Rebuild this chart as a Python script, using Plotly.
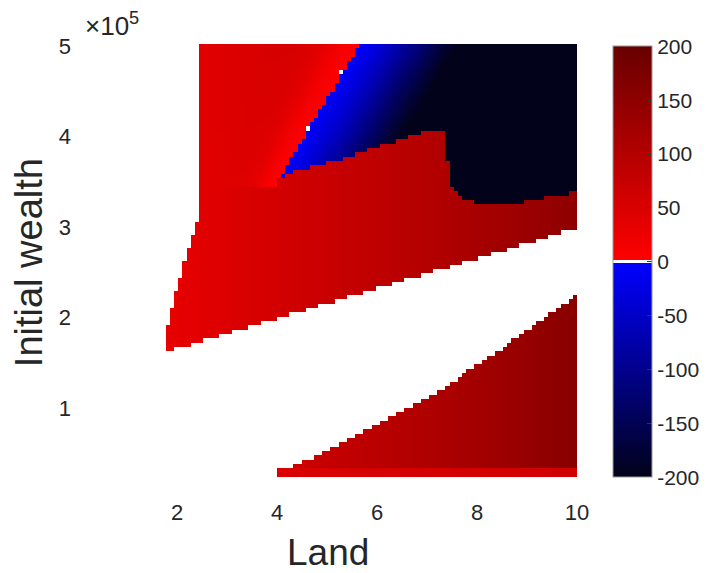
import numpy as np
import plotly.graph_objects as go

# ---- grid (cell centres); wealth in units of 1e5 ----
n_land, n_wealth = 100, 100
land_edges = np.linspace(1.78, 10.0, n_land + 1)
wealth_edges = np.linspace(0.238, 5.022, n_wealth + 1)
land = 0.5 * (land_edges[:-1] + land_edges[1:])
wealth = 0.5 * (wealth_edges[:-1] + wealth_edges[1:])

# ---- region boundaries (land, wealth/1e5) ----
# upper feasible band: left edge and lower edge
upper_left_wealth = [1.619, 1.785, 2.105, 2.304, 2.713, 3.022, 3.133, 5.022]
upper_left_land = [1.78, 1.78, 1.90, 2.00, 2.18, 2.38, 2.475, 2.475]
upper_low_land = [1.78, 10.0]
upper_low_wealth = [1.619, 2.989]

# sign-change line (positive to negative)
switch_wealth = [3.497, 5.022]
switch_land = [4.00, 5.66]

# lower edge of the negative zone
neg_low_land = [4.00, 4.22, 4.52, 4.86, 5.46, 6.00, 6.56, 7.12, 7.38, 7.42, 7.50, 7.70, 8.12, 8.66, 9.40, 10.0]
neg_low_wealth = [3.497, 3.597, 3.641, 3.685, 3.785, 3.884, 3.983, 4.083, 4.083, 3.597, 3.431, 3.320, 3.243, 3.243, 3.331, 3.387]

# upper edge of the lower feasible band
lower_up_land = [3.96, 4.46, 5.06, 5.66, 6.26, 6.86, 7.40, 7.92, 8.52, 9.06, 9.52, 10.0]
lower_up_wealth = [0.282, 0.392, 0.536, 0.724, 0.890, 1.066, 1.232, 1.453, 1.663, 1.884, 2.061, 2.249]
lower_start_land = 3.96
bottom_row_wealth = 0.33

# ---- values ----
red_land = [1.8, 3.0, 4.0, 5.0, 6.0, 7.0, 8.0, 9.0, 10.0]
red_upper = [32, 46, 60, 72, 86, 100, 117, 133, 150]
red_lower = [55, 58, 66, 78, 92, 106, 122, 140, 158]
bottom_land = [3.96, 10.0]
bottom_value = [50, 62]

# attenuation of positive values approaching the sign-change line
strip_cut_wealth = 3.44
strip_width_wealth = [3.44, 5.0]
strip_width = [0.55, 1.1]
strip_dist = [0.0, 0.25, 0.5, 0.75, 1.1, 1.6, 2.5]
strip_factor = [0.04, 0.12, 0.35, 0.62, 0.82, 0.93, 1.0]

# negative values as a function of distance from the sign-change line
neg_dist = [0.0, 0.4, 0.8, 1.2, 1.6, 2.0]
neg_value = [-4, -35, -75, -120, -165, -205]

# isolated zero cells on the sign-change line
zero_land = [4.60, 5.30]
zero_wealth = [4.105, 4.691]

# ---- build field ----
X, Y = np.meshgrid(land, wealth)
Z = np.full(X.shape, np.nan)

left_x = np.interp(Y, upper_left_wealth, upper_left_land)
low_y = np.interp(X, upper_low_land, upper_low_wealth)
in_upper = (X >= left_x) & (Y >= low_y)

edge_x = np.interp(Y, switch_wealth, switch_land)
neg_y = np.interp(X, neg_low_land, neg_low_wealth)
in_neg = in_upper & (X >= 4.0) & (X > edge_x) & (Y > neg_y)

base_up = np.interp(X, red_land, red_upper)
d_left = (edge_x - X) / np.interp(Y, strip_width_wealth, strip_width)
att = np.where((Y >= strip_cut_wealth) & (X <= edge_x),
               np.interp(d_left, strip_dist, strip_factor), 1.0)
Z = np.where(in_upper, base_up * att, Z)

d_right = X - edge_x
Z = np.where(in_neg, np.interp(d_right, neg_dist, neg_value), Z)

up_y = np.interp(X, lower_up_land, lower_up_wealth)
in_lower = (X >= lower_start_land) & (Y <= up_y)
Z = np.where(in_lower, np.interp(X, red_land, red_lower), Z)
in_bottom = (X >= lower_start_land) & (Y < bottom_row_wealth)
Z = np.where(in_bottom, np.interp(X, bottom_land, bottom_value), Z)

for lx, wy in zip(zero_land, zero_wealth):
    i = np.argmin(np.abs(wealth - wy))
    j = np.argmin(np.abs(land - lx))
    Z[i, j] = 0.0

# ---- colour scale: dark navy -> blue | white at zero | red -> dark red ----
colorscale = [
    [0.0, "rgb(2,2,26)"],
    [0.4975, "rgb(0,0,255)"],
    [0.4975, "rgb(255,255,255)"],
    [0.5025, "rgb(255,255,255)"],
    [0.5025, "rgb(255,0,0)"],
    [1.0, "rgb(104,0,0)"],
]

cbar_vals = [-200, -150, -100, -50, 0, 50, 100, 150, 200]
land_ticks = [2, 4, 6, 8, 10]
wealth_ticks = [1, 2, 3, 4, 5]

font_family = "Liberation Sans, Arial, Helvetica, sans-serif"
txt = "#262626"

fig = go.Figure(go.Heatmap(
    x=land, y=wealth * 1e5, z=Z,
    zmin=-200, zmax=200, colorscale=colorscale, zsmooth=False,
    hoverongaps=False,
    colorbar=dict(
        x=1.072, xanchor="left", xpad=0, ypad=0,
        y=0.497, yanchor="middle", len=0.995, lenmode="fraction",
        thickness=39, outlinecolor="#9a9a9a", outlinewidth=1,
        tickvals=cbar_vals, ticktext=[str(v) for v in cbar_vals],
        ticks="inside", ticklen=5, tickcolor="#333333",
        tickfont=dict(family=font_family, size=21, color=txt),
    ),
))

fig.update_layout(
    width=712, height=573,
    margin=dict(l=77, r=135, t=44, b=96, autoexpand=False),
    paper_bgcolor="white", plot_bgcolor="white",
    font=dict(family=font_family, color=txt),
    xaxis=dict(range=[0, 10], tickvals=land_ticks, ticktext=[str(v) for v in land_ticks],
               showgrid=False, zeroline=False, showline=False, ticks="",
               tickfont=dict(size=22, color=txt), ticklabelstandoff=20),
    yaxis=dict(range=[0.238e5, 5.022e5], tickvals=[v * 1e5 for v in wealth_ticks],
               ticktext=[str(v) for v in wealth_ticks],
               showgrid=False, zeroline=False, showline=False, ticks="",
               tickfont=dict(size=22, color=txt), ticklabelstandoff=5),
    annotations=[
        dict(text="Land", xref="paper", yref="paper", x=0.502, y=-0.175,
             xanchor="center", yanchor="middle", showarrow=False,
             font=dict(size=37, color=txt)),
        dict(text="Initial wealth", xref="paper", yref="paper", x=-0.097, y=0.495,
             xanchor="center", yanchor="middle", textangle=-90, showarrow=False,
             font=dict(size=38, color=txt)),
        dict(text="×10<sup>5</sup>", xref="paper", yref="paper", x=0.012, y=1.045,
             xanchor="left", yanchor="middle", showarrow=False,
             font=dict(size=26, color=txt)),
    ],
)

fig.write_html("out.html")
